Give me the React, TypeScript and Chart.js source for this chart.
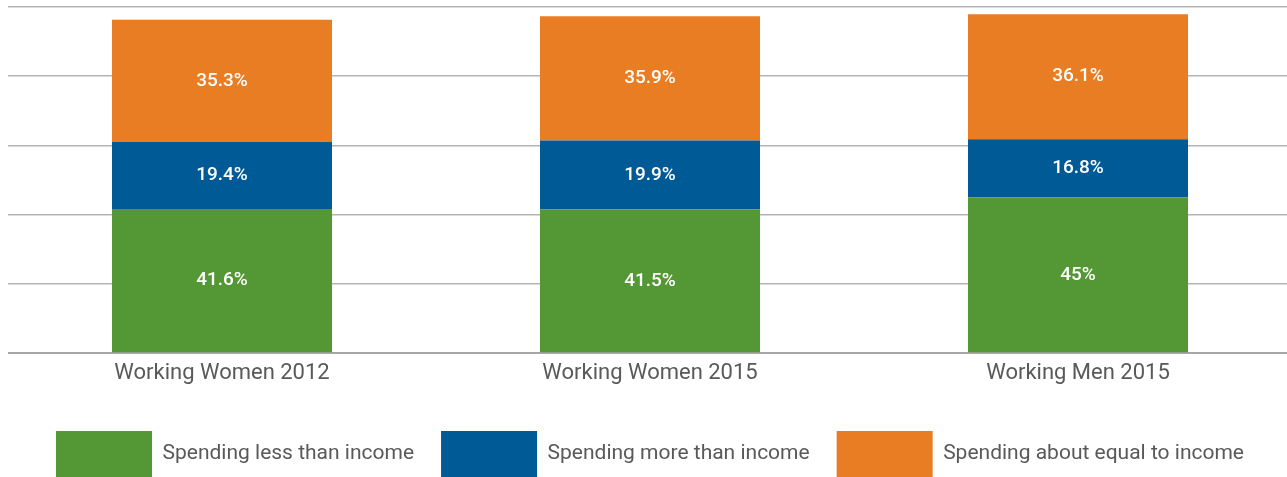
import React, { useEffect, useRef } from "react";
import { Chart, registerables } from "chart.js";

Chart.register(...registerables);

const categories = ["Working Women 2012", "Working Women 2015", "Working Men 2015"];
const seriesNames = ["Spending less than income", "Spending more than income", "Spending about equal to income"];
const lessThanIncome = [41.6, 41.5, 45];
const moreThanIncome = [19.4, 19.9, 16.8];
const equalToIncome = [35.3, 35.9, 36.1];
const yTicks = [0, 20, 40, 60, 80, 100];

const COLORS = ["#549735", "#005A96", "#E87D23"];
const FONT = "Roboto, sans-serif";

const valueLabels = {
  id: "valueLabels",
  afterDatasetsDraw(chart: any) {
    const ctx = chart.ctx;
    ctx.save();
    ctx.fillStyle = "#ffffff";
    ctx.font = `500 19px ${FONT}`;
    ctx.textAlign = "center";
    ctx.textBaseline = "middle";
    chart.data.datasets.forEach((ds: any, di: number) => {
      const meta = chart.getDatasetMeta(di);
      meta.data.forEach((el: any, i: number) => {
        const { x, y, base } = el.getProps(["x", "y", "base"], true);
        ctx.fillText(`${ds.data[i]}%`, x, (y + base) / 2);
      });
    });
    ctx.restore();
  },
};

export default function App() {
  const ref = useRef<HTMLCanvasElement>(null);
  useEffect(() => {
    if (!ref.current) return;
    const chart = new Chart(ref.current, {
      type: "bar",
      data: {
        labels: categories,
        datasets: [
          { label: seriesNames[0], data: lessThanIncome, backgroundColor: COLORS[0] },
          { label: seriesNames[1], data: moreThanIncome, backgroundColor: COLORS[1] },
          { label: seriesNames[2], data: equalToIncome, backgroundColor: COLORS[2] },
        ],
      },
      options: {
        animation: false,
        responsive: true,
        maintainAspectRatio: false,
        layout: { padding: { top: 7, left: 0, right: 0, bottom: -10 } },
        datasets: { bar: { categoryPercentage: 1, barPercentage: 0.514 } },
        scales: {
          x: {
            stacked: true,
            grid: { display: false },
            border: { display: true, color: "#a6a6a6", width: 2 },
            ticks: { color: "#595959", font: { family: FONT, size: 22 }, padding: -1 },
            afterFit: (scale: any) => {
              scale.height = 51;
            },
          },
          y: {
            stacked: true,
            min: yTicks[0],
            max: yTicks[yTicks.length - 1],
            afterBuildTicks: (scale: any) => {
              scale.ticks = yTicks.map((v) => ({ value: v }));
            },
            ticks: { display: false },
            grid: { color: "#b3b3b3", lineWidth: 1.5, drawTicks: false },
            border: { display: false },
          },
        },
        plugins: {
          tooltip: { enabled: false },
          legend: {
            position: "bottom",
            labels: {
              boxWidth: 96,
              boxHeight: 46,
              padding: 27,
              color: "#595959",
              font: { family: FONT, size: 21 },
            },
          },
        },
      },
      plugins: [valueLabels],
    });
    return () => chart.destroy();
  }, []);
  return (
    <div style={{ position: "absolute", left: 0, top: 0, width: 1287, height: 477, overflow: "hidden", background: "#fff" }}>
      <div style={{ position: "absolute", left: 8, top: 0, width: 1284, height: 477 }}>
        <canvas ref={ref} />
      </div>
    </div>
  );
}
